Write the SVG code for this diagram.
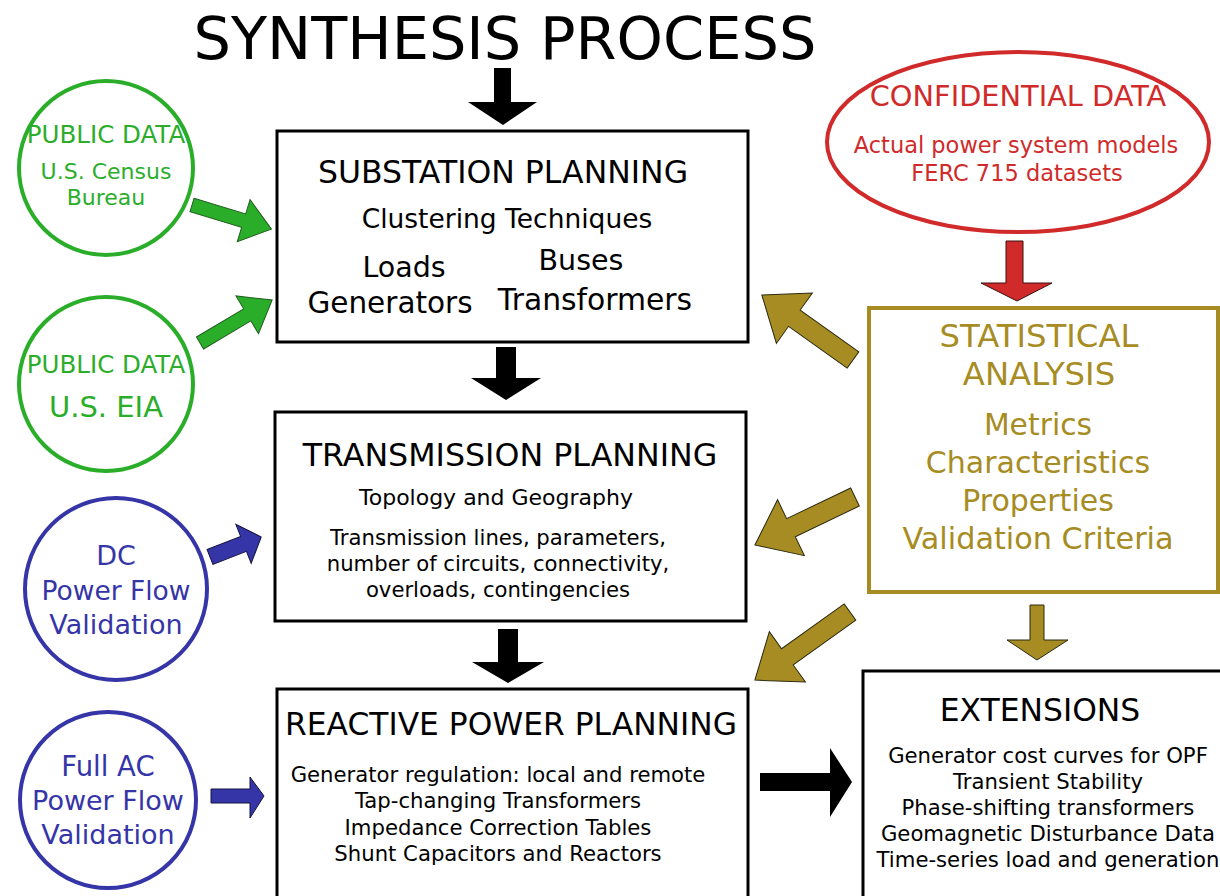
<svg xmlns="http://www.w3.org/2000/svg" width="1220" height="896" viewBox="0 0 1220 896">
<style>
text{font-family:"DejaVu Sans","Open Sans",sans-serif;text-anchor:middle}
.box{fill:#fff;stroke:#000;stroke-width:3}
.g{fill:#2aae2a}.b{fill:#3535a8}.y{fill:#a68c22}.r{fill:#d02a2a}
.ga{fill:#2aae2a;stroke:#1f5f1f;stroke-width:1}
.ba{fill:#3535a8;stroke:#151540;stroke-width:1}
.ya{fill:#a68c22;stroke:#2a2a10;stroke-width:1}
.ra{fill:#d02a2a;stroke:#3a1010;stroke-width:1}
.ka{fill:#000}
</style>
<rect width="1220" height="896" fill="#fff"/>
<text x="505" y="59" font-size="59">SYNTHESIS PROCESS</text>

<g id="connectors">
<polygon class="ka" points="494,68 511,68 511,102 537,102 503,125 468,102 494,102"/>
<polygon class="ka" points="496,347 516,347 516,378 541,378 506,400 471,378 496,378"/>
<polygon class="ka" points="498,629 518,629 518,662 544,662 508,683 472,662 498,662"/>
<polygon class="ka" points="760,773 830,773 830,748 852,782 830,817 830,791 760,791"/>
<polygon class="ga" transform="translate(192,205) rotate(16.9)" points="0,-7 54,-7 54,-22 83,0 54,22 54,7 0,7"/>
<polygon class="ga" transform="translate(200,343) rotate(-30.8)" points="0,-7 55,-7 55,-22 84,0 55,22 55,7 0,7"/>
<polygon class="ba" transform="translate(210,557) rotate(-21.4)" points="0,-8 36,-8 36,-21 55,0 36,21 36,8 0,8"/>
<polygon class="ba" points="211,789 250,789 250,777 264,796 250,818 250,803 211,803"/>
<polygon class="ra" points="1006,241 1023,241 1023,283 1052,283 1017,301 981,283 1006,283"/>
<polygon class="ya" transform="translate(853,360) rotate(-144.5)" points="0,-10 72,-10 72,-31 112,0 72,31 72,10 0,10"/>
<polygon class="ya" transform="translate(855,497) rotate(154.4)" points="0,-10 71,-10 71,-31 111,0 71,31 71,10 0,10"/>
<polygon class="ya" transform="translate(850,612) rotate(144.4)" points="0,-10 77,-10 77,-31 117,0 77,31 77,10 0,10"/>
<polygon class="ya" points="1030,605 1044,605 1044,640 1068,640 1037,660 1007,640 1030,640"/>
</g>

<g id="public1">
<circle cx="106" cy="168" r="87" fill="#fff" stroke="#2aae2a" stroke-width="4"/>
<text class="g" x="106" y="143" font-size="24.5">PUBLIC DATA</text>
<text class="g" x="106" y="179" font-size="22">U.S. Census</text>
<text class="g" x="106" y="205" font-size="22">Bureau</text>
</g>
<g id="public2">
<circle cx="106" cy="384" r="87" fill="#fff" stroke="#2aae2a" stroke-width="4"/>
<text class="g" x="106" y="373" font-size="24.5">PUBLIC DATA</text>
<text class="g" x="106" y="417" font-size="29">U.S. EIA</text>
</g>
<g id="dc">
<circle cx="116" cy="589" r="91" fill="#fff" stroke="#3535a8" stroke-width="4"/>
<text class="b" x="116" y="565" font-size="27">DC</text>
<text class="b" x="116" y="600" font-size="26.5">Power Flow</text>
<text class="b" x="116" y="634" font-size="27">Validation</text>
</g>
<g id="ac">
<circle cx="108" cy="800" r="88" fill="#fff" stroke="#3535a8" stroke-width="4"/>
<text class="b" x="108" y="776" font-size="27.5">Full AC</text>
<text class="b" x="108" y="810" font-size="27">Power Flow</text>
<text class="b" x="108" y="844" font-size="27">Validation</text>
</g>
<g id="confidential">
<ellipse cx="1018" cy="142" rx="191" ry="90" fill="#fff" stroke="#d02a2a" stroke-width="4"/>
<text class="r" x="1018" y="106" font-size="28.8">CONFIDENTIAL DATA</text>
<text class="r" x="1016" y="153" font-size="22.5">Actual power system models</text>
<text class="r" x="1017" y="181" font-size="22.5">FERC 715 datasets</text>
</g>

<g id="substation">
<rect class="box" x="277" y="131" width="471" height="211"/>
<text x="503" y="183" font-size="31.5">SUBSTATION PLANNING</text>
<text x="507" y="228" font-size="26.5">Clustering Techniques</text>
<text x="404" y="277" font-size="28.5">Loads</text>
<text x="581" y="270" font-size="28.5">Buses</text>
<text x="390" y="313" font-size="29.5">Generators</text>
<text x="595" y="310" font-size="29.8">Transformers</text>
</g>
<g id="transmission">
<rect class="box" x="275" y="412" width="471" height="209"/>
<text x="510" y="466" font-size="31.7">TRANSMISSION PLANNING</text>
<text x="496" y="505" font-size="22">Topology and Geography</text>
<text x="498" y="545" font-size="21.2">Transmission lines, parameters,</text>
<text x="498" y="571" font-size="21.2">number of circuits, connectivity,</text>
<text x="498" y="597" font-size="21.2">overloads, contingencies</text>
</g>
<g id="reactive">
<rect class="box" x="277" y="689" width="471" height="212"/>
<text x="511" y="735" font-size="31.3">REACTIVE POWER PLANNING</text>
<text x="498" y="782" font-size="21.2">Generator regulation: local and remote</text>
<text x="498" y="808" font-size="21.2">Tap-changing Transformers</text>
<text x="498" y="835" font-size="21.2">Impedance Correction Tables</text>
<text x="498" y="861" font-size="21.2">Shunt Capacitors and Reactors</text>
</g>
<g id="statistical">
<rect x="869" y="308" width="349" height="284" fill="#fff" stroke="#a68c22" stroke-width="4"/>
<text class="y" x="1039" y="347" font-size="32.3">STATISTICAL</text>
<text class="y" x="1039" y="385" font-size="32.3">ANALYSIS</text>
<text class="y" x="1038" y="435" font-size="29.8">Metrics</text>
<text class="y" x="1038" y="473" font-size="30">Characteristics</text>
<text class="y" x="1038" y="511" font-size="30">Properties</text>
<text class="y" x="1038" y="549" font-size="30.3">Validation Criteria</text>
</g>
<g id="extensions">
<rect class="box" x="863" y="671" width="360" height="230"/>
<text x="1040" y="721" font-size="31.4">EXTENSIONS</text>
<text x="1048" y="763" font-size="21.2">Generator cost curves for OPF</text>
<text x="1048" y="789" font-size="21.2">Transient Stability</text>
<text x="1048" y="815" font-size="21.2">Phase-shifting transformers</text>
<text x="1048" y="841" font-size="21.2">Geomagnetic Disturbance Data</text>
<text x="1048" y="867" font-size="21.2">Time-series load and generation</text>
</g>
</svg>
